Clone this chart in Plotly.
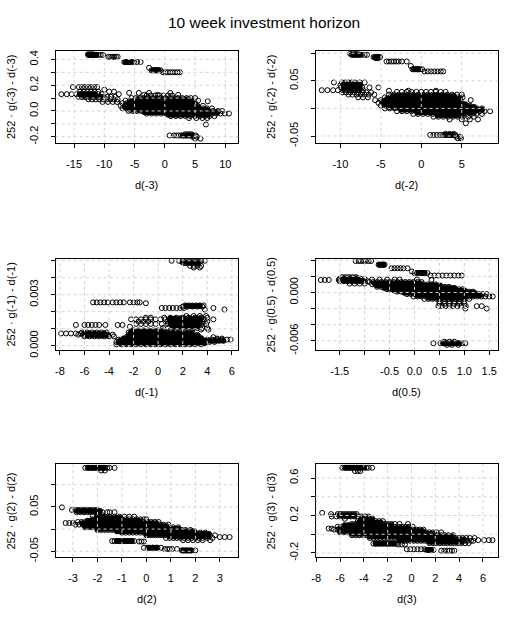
import plotly.graph_objects as go

# ---------------- data ----------------
panel_names = ["-3", "-2", "-1", "0.5", "2", "3"]

# individual (outer / sparse) points: (y value, [x values])
rows_dm3 = [
    (0.44, [-12.7, -12.4, -12.1, -11.8]),
    (0.435, [-12.5, -12.2, -11.9, -11.6, -11.3, -11.0, -10.6, -10.2]),
    (0.42, [-9.3, -9.0, -8.7, -8.4, -8.1, -7.8]),
    (0.38, [-6.7, -6.4, -6.1, -5.8, -5.5, -5.1, -4.6, -4.0]),
    (0.335, [-2.6]),
    (0.315, [-2.2, -1.9, -1.6, -1.3, -1.0, -0.7]),
    (0.30, [-0.3, 0.1, 0.5, 0.9, 1.3, 1.7, 2.1, 2.5]),
    (0.185, [-15.2, -14.2, -13.7, -13.2, -12.7, -12.2, -11.7, -11.2]),
    (0.165, [-10.0]),
    (0.15, [-14.0, -13.4, -12.8, -12.2, -11.6, -11.0, -9.2, -8.4]),
    (0.14, [-5.9, -4.3, -2.6, 0.9]),
    (0.13, [-17.1, -16.2, -15.4, -14.6, -14.0, -13.4, -12.8, -12.2, -11.6, -11.0, -10.4, -7.6]),
    (0.125, [-3.4, -1.2, 2.2]),
    (0.12, [-3.0, -2.3, -1.6, -0.9, -0.2, 0.5, 1.2]),
    (0.11, [-14.3, -13.7, -13.1, -12.5, -11.9, -11.3, -10.7, -10.1, -9.5, -8.9, -8.2]),
    (0.10, [-5.5, -4.8, -4.1, -3.4, -2.7, -2.0, -1.3, -0.6, 0.1, 0.8, 1.5, 2.2, 2.9, 3.6, 4.3, 5.0]),
    (0.09, [-12.6, -12.0, -11.4, -10.8, -10.2, -9.6, -9.0, -8.4, -7.8]),
    (0.08, [-6.5, -5.8, -5.1, -4.4, -3.7, -3.0, -2.3, -1.6, -0.9, -0.2, 0.5, 1.2, 1.9, 2.6, 3.3, 4.0, 4.7, 5.5]),
    (0.075, [7.1]),
    (0.07, [-10.3, -9.4, -8.6, -7.9]),
    (0.06, [-7.0, -6.3, -5.6, -4.9, -4.2, -3.5, -2.8, -2.1, -1.4, -0.7, 0.0, 0.7, 1.4, 2.1, 2.8, 3.5, 4.2, 5.0]),
    (0.04, [-7.3, -6.6, -5.9, -5.2, -4.5, -3.8, -3.1, -2.4, -1.7, -1.0, -0.3, 0.4, 1.1, 1.8, 2.5, 3.2, 3.9, 4.6, 5.4, 6.3]),
    (0.02, [-7.0, -6.3, -5.6, -4.9, -4.2, -3.5, -2.8, -2.1, -1.4, -0.7, 0.0, 0.7, 1.4, 2.1, 2.8, 3.5, 4.2, 4.9, 5.6, 6.3, 7.0, 7.8]),
    (0.0, [-6.0, -5.3, -4.6, -3.9, -3.2, -2.5, -1.8, -1.1, -0.4, 0.3, 1.0, 1.7, 2.4, 3.1, 3.8, 4.5, 5.2, 5.9, 6.6, 7.3, 8.0, 8.8, 9.5]),
    (-0.02, [-3.0, -2.2, -1.4, -0.6, 0.2, 1.0, 1.8, 2.6, 3.4, 4.2, 5.0, 5.7, 6.4, 7.1, 7.8, 8.5, 9.2, 9.9, 10.6]),
    (-0.04, [1.0, 1.8, 2.6, 3.4, 4.2, 5.0, 5.8, 6.6, 7.4, 8.2]),
    (-0.055, [4.0, 5.2, 6.2, 7.0]),
    (-0.105, [6.8]),
    (-0.18, [3.4, 3.9, 4.4]),
    (-0.19, [0.8, 1.5, 1.9, 2.3, 2.7, 3.1, 3.5, 3.9, 4.3, 4.7, 5.1]),
    (-0.20, [4.6, 5.3]),
    (-0.215, [5.0, 5.9]),
]
# heavily overplotted cores (shown as solid black)
core_dm3 = [
    (0.435, [-12.6, -12.2, -11.8, -11.4]),
    (0.38, [-6.5, -6.1, -5.7]),
    (0.315, [-1.9, -1.5, -1.1]),
    (0.13, [-14.0, -13.4, -12.8, -12.2, -11.6]),
    (0.11, [-13.7, -13.1, -12.5, -11.9, -11.3, -10.7]),
    (0.09, [-4.5, -3.9, -3.3, -2.7, -2.1, -1.5, -0.9, -0.3, 0.3, 0.9, 1.5, 2.1, 2.7, 3.3, 3.9]),
    (0.07, [-5.7, -5.1, -4.5, -3.9, -3.3, -2.7, -2.1, -1.5, -0.9, -0.3, 0.3, 0.9, 1.5, 2.1, 2.7, 3.3, 3.9, 4.5]),
    (0.05, [-6.3, -5.7, -5.1, -4.5, -3.9, -3.3, -2.7, -2.1, -1.5, -0.9, -0.3, 0.3, 0.9, 1.5, 2.1, 2.7, 3.3, 3.9, 4.5]),
    (0.03, [-6.6, -6.0, -5.4, -4.8, -4.2, -3.6, -3.0, -2.4, -1.8, -1.2, -0.6, 0.0, 0.6, 1.2, 1.8, 2.4, 3.0, 3.6, 4.2, 4.8, 5.4]),
    (0.01, [-5.7, -5.1, -4.5, -3.9, -3.3, -2.7, -2.1, -1.5, -0.9, -0.3, 0.3, 0.9, 1.5, 2.1, 2.7, 3.3, 3.9, 4.5, 5.1, 5.7, 6.3, 6.9]),
    (-0.01, [-3.3, -2.7, -2.1, -1.5, -0.9, -0.3, 0.3, 0.9, 1.5, 2.1, 2.7, 3.3, 3.9, 4.5, 5.1, 5.7, 6.3, 6.9, 7.5, 8.1, 8.7]),
    (-0.03, [0.6, 1.2, 1.8, 2.4, 3.0, 3.6, 4.2, 4.8, 5.4, 6.0, 6.6, 7.2]),
    (-0.19, [3.0, 3.5, 4.0, 4.5]),
]

rows_dm2 = [
    (0.099, [-8.8, -8.5, -8.2, -7.9]),
    (0.097, [-8.6, -8.2, -7.8, -7.4, -7.0, -6.7]),
    (0.093, [-5.9, -5.7, -5.5, -5.3, -5.1]),
    (0.091, [-5.6, -5.3]),
    (0.085, [-4.3, -4.0, -3.7, -3.4, -3.1, -2.8, -2.4, -1.8]),
    (0.077, [-1.3]),
    (0.071, [-1.1, -0.8, -0.5, -0.2, 0.1]),
    (0.067, [0.4, 0.8, 1.2, 1.6, 2.0, 2.4, 2.7]),
    (0.047, [-10.8, -9.8, -9.4, -9.0, -8.6, -8.2, -7.6, -7.0]),
    (0.042, [-10.0, -9.6, -9.2, -8.8, -8.4, -8.0, -7.6]),
    (0.038, [-9.9, -9.4, -8.9, -8.4, -7.9, -7.3, -6.4, -5.3]),
    (0.033, [-12.3, -11.6, -10.9, -10.3, -9.7, -9.2, -8.7, -8.2, -7.7, -7.2]),
    (0.032, [-4.0, -1.6, 1.8]),
    (0.030, [-3.0, -2.4, -1.8, -1.2, -0.6, 0.0, 0.6, 1.2, 1.8, 2.4, 3.0]),
    (0.029, [-9.8, -9.3, -8.8, -8.3, -7.8, -7.3, -6.8, -6.2]),
    (0.025, [-9.0, -8.5, -8.0, -7.5, -7.0, -6.5, -5.8, -4.0, -3.4, -2.8, -2.2, -1.6, -1.0, -0.4, 0.2, 0.8, 1.4, 2.0, 2.6, 3.2, 3.8, 4.4, 5.0]),
    (0.020, [-7.8, -7.2, -6.6, -4.5, -3.9, -3.3, -2.7, -2.1, -1.5, -0.9, -0.3, 0.3, 0.9, 1.5, 2.1, 2.7, 3.3, 3.9, 4.5, 5.1]),
    (0.015, [-5.7, -5.0, -4.4, -3.8, -3.2, -2.6, -2.0, -1.4, -0.8, -0.2, 0.4, 1.0, 1.6, 2.2, 2.8, 3.4, 4.0, 4.6, 6.1]),
    (0.010, [-5.3, -4.7, -4.1, -3.5, -2.9, -2.3, -1.7, -1.1, -0.5, 0.1, 0.7, 1.3, 1.9, 2.5, 3.1, 3.7, 4.3, 5.0]),
    (0.005, [-5.0, -4.4, -3.8, -3.2, -2.6, -2.0, -1.4, -0.8, -0.2, 0.4, 1.0, 1.6, 2.2, 2.8, 3.4, 4.0, 4.6, 5.2, 6.0]),
    (0.000, [-4.5, -3.9, -3.3, -2.7, -2.1, -1.5, -0.9, -0.3, 0.3, 0.9, 1.5, 2.1, 2.7, 3.3, 3.9, 4.5, 5.1, 5.7, 6.3, 6.9, 7.5]),
    (-0.005, [-3.0, -2.4, -1.8, -1.2, -0.6, 0.0, 0.6, 1.2, 1.8, 2.4, 3.0, 3.6, 4.2, 4.8, 5.4, 6.0, 6.6, 7.2, 7.8, 8.5]),
    (-0.010, [-1.0, -0.4, 0.2, 0.8, 1.4, 2.0, 2.6, 3.2, 3.8, 4.4, 5.0, 5.6, 6.2, 6.8, 7.5]),
    (-0.015, [1.5, 2.1, 2.7, 3.3, 3.9, 4.5, 5.1, 5.8, 6.5]),
    (-0.020, [3.5, 5.0, 6.0, 7.0]),
    (-0.027, [5.5]),
    (-0.046, [3.0, 3.5, 4.0]),
    (-0.048, [1.1, 1.5, 1.9, 2.3, 2.7, 3.0, 3.3, 3.6, 3.9, 4.2]),
    (-0.051, [4.3, 4.8]),
    (-0.054, [4.5, 4.9]),
]
core_dm2 = [
    (0.097, [-8.4, -8.0, -7.6]),
    (0.092, [-5.7, -5.4]),
    (0.071, [-0.9, -0.6, -0.3]),
    (0.043, [-9.6, -9.1, -8.6, -8.1, -7.6]),
    (0.035, [-9.6, -9.1, -8.6, -8.1, -7.6]),
    (0.0225, [-3.5, -3.0, -2.5, -2.0, -1.5, -1.0, -0.5, 0.0, 0.5, 1.0, 1.5, 2.0, 2.5, 3.0, 3.5, 4.0]),
    (0.0175, [-4.2, -3.7, -3.2, -2.7, -2.2, -1.7, -1.2, -0.7, -0.2, 0.3, 0.8, 1.3, 1.8, 2.3, 2.8, 3.3, 3.8, 4.3, 4.8]),
    (0.0125, [-4.8, -4.3, -3.8, -3.3, -2.8, -2.3, -1.8, -1.3, -0.8, -0.3, 0.2, 0.7, 1.2, 1.7, 2.2, 2.7, 3.2, 3.7, 4.2, 4.7]),
    (0.0075, [-4.6, -4.1, -3.6, -3.1, -2.6, -2.1, -1.6, -1.1, -0.6, -0.1, 0.4, 0.9, 1.4, 1.9, 2.4, 2.9, 3.4, 3.9, 4.4, 4.9, 5.4]),
    (0.0025, [-4.0, -3.5, -3.0, -2.5, -2.0, -1.5, -1.0, -0.5, 0.0, 0.5, 1.0, 1.5, 2.0, 2.5, 3.0, 3.5, 4.0, 4.5, 5.0, 5.5, 6.0, 6.5]),
    (-0.0025, [-2.5, -2.0, -1.5, -1.0, -0.5, 0.0, 0.5, 1.0, 1.5, 2.0, 2.5, 3.0, 3.5, 4.0, 4.5, 5.0, 5.5, 6.0, 6.5, 7.0, 7.5]),
    (-0.0075, [-0.5, 0.0, 0.5, 1.0, 1.5, 2.0, 2.5, 3.0, 3.5, 4.0, 4.5, 5.0, 5.5, 6.0, 6.5]),
    (-0.0125, [2.0, 2.5, 3.0, 3.5, 4.0, 4.5, 5.0]),
    (-0.048, [3.0, 3.4, 3.8]),
]

rows_dm1 = [
    (0.00500, [1.1, 1.7, 2.0, 2.3, 2.5, 2.7, 2.9, 3.1, 3.3, 3.5, 3.8]),
    (0.00485, [2.1, 2.4, 2.7, 3.0, 3.3]),
    (0.00470, [2.6, 2.9, 3.2, 3.5]),
    (0.00460, [2.9, 3.4]),
    (0.00255, [-5.3, -5.0, -4.7, -4.4, -4.1, -3.7, -3.4, -3.1, -2.8, -2.3, -2.0, -1.7, -1.5]),
    (0.00250, [-1.0]),
    (0.00237, [2.2, 2.5, 2.8, 3.1, 3.4, 3.7]),
    (0.00230, [2.0, 2.4, 2.8, 3.2, 3.6]),
    (0.00222, [0.3, 0.6, 0.9, 1.2, 1.5, 1.8, 2.1, 4.5]),
    (0.00213, [3.8, 5.4]),
    (0.00175, [2.3, 2.9, 3.4, 3.9]),
    (0.00165, [-1.0, -0.6, 0.5, 1.0, 1.5, 2.0, 2.5, 3.0, 3.5, 4.0]),
    (0.00155, [-2.2, -1.8, -1.4, -1.0, -0.6, -0.2, 0.2, 0.6, 1.0, 1.4, 1.8, 2.2, 2.6, 3.0, 3.4, 3.8, 4.5]),
    (0.00142, [-1.6, -1.2, -0.8, 0.8, 1.2, 1.6, 2.0, 2.4, 2.8, 3.2, 3.6, 4.0]),
    (0.00128, [-1.8, -1.4, -1.0, -0.6, -0.2, 0.3, 0.8, 1.2, 1.6, 2.0, 2.4, 2.8, 3.2, 3.6, 3.9]),
    (0.00122, [-6.7, -6.0, -5.7, -5.4, -5.1, -4.8, -4.3, -3.3, -2.9]),
    (0.00112, [-2.3]),
    (0.00104, [0.4, 0.8, 1.2, 1.6, 2.0, 2.4, 2.8, 3.2, 3.6, 4.0]),
    (0.00095, [1.5, 2.2, 2.8, 3.5, 4.1]),
    (0.00090, [-2.0, -1.6, -1.2, -0.8, -0.4, 0.0, 0.4, 1.0]),
    (0.00078, [-6.2, -5.8, -5.4, -5.0, -4.6, -4.2, -2.4, -2.0, -1.6, -1.2, -0.8, -0.4, 0.0, 0.4, 0.8, 1.2, 1.6, 2.0, 2.4, 2.8]),
    (0.00072, [-7.9, -7.5, -7.1, -6.7, -6.3]),
    (0.00065, [-6.5, -6.1, -5.7, -5.3, -4.9, -4.5, -4.1, -3.7]),
    (0.00064, [-2.4, -2.0, -1.6, -1.2, -0.8, -0.4, 0.0, 0.4, 0.8, 1.2, 1.6, 2.0, 2.4, 2.8, 3.2]),
    (0.00055, [-6.0, -5.6, -5.2, -4.8, -4.4, -4.0, -3.6]),
    (0.00050, [-2.6, -2.2, -1.8, -1.4, -1.0, -0.6, -0.2, 0.2, 0.6, 1.0, 1.4, 1.8, 2.2, 2.6, 3.0, 3.4, 4.5]),
    (0.00042, [4.8, 5.2]),
    (0.00036, [-3.2, -2.8, -2.4, -2.0, -1.6, -1.2, -0.8, -0.4, 0.0, 0.4, 0.8, 1.2, 1.6, 2.0, 2.4, 2.8, 3.2, 3.6, 4.0, 4.4, 4.8, 5.2, 5.6, 5.9]),
    (0.00022, [-3.4, -3.0, -2.6, -2.2, -1.8, -1.4, -1.0, -0.6, -0.2, 0.2, 0.6, 1.0, 1.4, 1.8, 2.2, 2.6, 3.0, 3.4, 3.8, 4.2, 4.6]),
    (0.00008, [-3.4, -3.0, -2.6, -2.2, -1.8, -1.4, -1.0, -0.6, -0.2, 0.2, 0.6, 1.0, 1.4, 1.8, 2.2, 2.6, 3.0, 3.5]),
]
core_dm1 = [
    (0.00492, [2.0, 2.35, 2.7, 3.05, 3.3]),
    (0.00233, [2.3, 2.65, 3.0, 3.35]),
    (0.00160, [1.0, 1.4, 1.8, 2.2, 2.6, 3.0, 3.4]),
    (0.00135, [1.0, 1.4, 1.8, 2.2, 2.6, 3.0, 3.4]),
    (0.00115, [1.2, 1.6, 2.0, 2.4, 2.8, 3.2]),
    (0.00072, [-6.0, -5.6, -5.2, -4.8, -4.4]),
    (0.00060, [-5.8, -5.4, -5.0, -4.6, -4.2]),
    (0.00084, [-2.2, -1.85, -1.5, -1.15, -0.8, -0.45, -0.1, 0.25]),
    (0.00071, [-2.2, -1.85, -1.5, -1.15, -0.8, -0.45, -0.1, 0.25, 0.6, 0.95, 1.3, 1.65, 2.0, 2.35, 2.7]),
    (0.00057, [-2.4, -2.05, -1.7, -1.35, -1.0, -0.65, -0.3, 0.05, 0.4, 0.75, 1.1, 1.45, 1.8, 2.15, 2.5, 2.85, 3.2]),
    (0.00043, [-2.8, -2.45, -2.1, -1.75, -1.4, -1.05, -0.7, -0.35, 0.0, 0.35, 0.7, 1.05, 1.4, 1.75, 2.1, 2.45, 2.8, 3.15, 3.5]),
    (0.00029, [-3.1, -2.75, -2.4, -2.05, -1.7, -1.35, -1.0, -0.65, -0.3, 0.05, 0.4, 0.75, 1.1, 1.45, 1.8, 2.15, 2.5, 2.85, 3.2, 3.55, 3.9, 4.25, 4.6, 4.95, 5.3]),
    (0.00015, [-3.2, -2.85, -2.5, -2.15, -1.8, -1.45, -1.1, -0.75, -0.4, -0.05, 0.3, 0.65, 1.0, 1.35, 1.7, 2.05, 2.4, 2.75, 3.1, 3.45, 3.8]),
]

rows_d05 = [
    (0.0039, [-1.18, -1.12, -1.08, -1.03, -0.98, -0.92, -0.87]),
    (0.00345, [-0.72, -0.69, -0.66, -0.63, -0.60]),
    (0.0030, [-0.46, -0.40, -0.34, -0.28, -0.22, -0.14]),
    (0.0026, [-0.05]),
    (0.0024, [0.0, 0.05, 0.10, 0.15, 0.20, 0.26]),
    (0.0021, [0.32, 0.40, 0.48, 0.56, 0.64, 0.72, 0.80, 0.88, 0.95]),
    (0.0019, [-1.45, -1.38, -1.31, -1.24, -1.17]),
    (0.0017, [-1.50, -1.43, -1.36, -1.29, -1.22, -1.15, -1.08, -1.00]),
    (0.0016, [-0.85, -0.70, -0.55, -0.40, -0.30, 0.05]),
    (0.00155, [-1.88, -1.80, -1.72, -1.52, 0.34]),
    (0.0014, [-1.50, -1.42, -1.34, -1.26, -1.18, -1.10, -1.02, -0.94]),
    (0.0013, [-0.90, -0.82, -0.74, -0.66, -0.58, -0.50, -0.42, -0.34, -0.26, -0.18, -0.10, -0.02, 0.06, 0.14]),
    (0.0011, [-1.30, -1.20, -1.10, -1.00]),
    (0.0010, [-0.85, -0.77, -0.69, -0.61, -0.53, -0.45, -0.37, -0.29, -0.21, -0.13, -0.05, 0.03, 0.11, 0.19, 0.27, 0.35, 0.43]),
    (0.0007, [-0.75, -0.67, -0.59, -0.51, -0.43, -0.35, -0.27, -0.19, -0.11, -0.03, 0.05, 0.13, 0.21, 0.29, 0.37, 0.45, 0.53, 0.61, 0.69]),
    (0.0004, [-0.55, -0.47, -0.39, -0.31, -0.23, -0.15, -0.07, 0.01, 0.09, 0.17, 0.25, 0.33, 0.41, 0.49, 0.57, 0.65, 0.73, 0.81, 0.89, 0.97]),
    (0.0001, [-0.35, -0.27, -0.19, -0.11, -0.03, 0.05, 0.13, 0.21, 0.29, 0.37, 0.45, 0.53, 0.61, 0.69, 0.77, 0.85, 0.93, 1.01, 1.09, 1.17]),
    (-0.0002, [-0.15, -0.07, 0.01, 0.09, 0.17, 0.25, 0.33, 0.41, 0.49, 0.57, 0.65, 0.73, 0.81, 0.89, 0.97, 1.05, 1.13, 1.21, 1.29, 1.37, 1.45]),
    (-0.0005, [-0.02, 0.06, 0.14, 0.22, 0.30, 0.38, 0.46, 0.54, 0.62, 0.70, 0.78, 0.86, 0.94, 1.02, 1.10, 1.18, 1.26, 1.34, 1.42, 1.50, 1.57]),
    (-0.0008, [0.20, 0.28, 0.36, 0.44, 0.52, 0.60, 0.68, 0.76, 0.84, 0.92, 1.00, 1.10]),
    (-0.0011, [0.50, 0.60, 0.70, 0.80, 0.90, 1.00]),
    (-0.0014, [0.50, 0.60, 0.70, 0.80, 0.90, 1.00]),
    (-0.0017, [0.48, 0.55, 0.62, 0.70, 0.78, 0.86, 0.94, 1.03, 1.25, 1.35]),
    (-0.0020, [1.02, 1.45]),
    (-0.0061, [0.60, 0.70, 0.80]),
    (-0.0063, [0.38, 0.52, 0.58, 0.63, 0.68, 0.73, 0.78, 0.84, 0.90, 0.96, 1.02]),
    (-0.0065, [0.65, 0.75, 0.88]),
]
core_d05 = [
    (0.00345, [-0.70, -0.66, -0.62]),
    (0.0024, [0.08, 0.14, 0.20]),
    (0.00175, [-1.42, -1.35, -1.28, -1.21, -1.14]),
    (0.00145, [-1.40, -1.33, -1.26, -1.19, -1.12, -1.05]),
    (0.00115, [-0.80, -0.73, -0.66, -0.59, -0.52, -0.45, -0.38, -0.31, -0.24, -0.17, -0.10, -0.03, 0.04, 0.11]),
    (0.00085, [-0.75, -0.68, -0.61, -0.54, -0.47, -0.40, -0.33, -0.26, -0.19, -0.12, -0.05, 0.02, 0.09, 0.16, 0.23, 0.30, 0.37, 0.44, 0.51]),
    (0.00055, [-0.60, -0.53, -0.46, -0.39, -0.32, -0.25, -0.18, -0.11, -0.04, 0.03, 0.10, 0.17, 0.24, 0.31, 0.38, 0.45, 0.52, 0.59, 0.66, 0.73, 0.80]),
    (0.00025, [-0.40, -0.33, -0.26, -0.19, -0.12, -0.05, 0.02, 0.09, 0.16, 0.23, 0.30, 0.37, 0.44, 0.51, 0.58, 0.65, 0.72, 0.79, 0.86, 0.93, 1.00]),
    (-0.00005, [-0.20, -0.13, -0.06, 0.01, 0.08, 0.15, 0.22, 0.29, 0.36, 0.43, 0.50, 0.57, 0.64, 0.71, 0.78, 0.85, 0.92, 0.99, 1.06, 1.13, 1.20]),
    (-0.00035, [0.05, 0.12, 0.19, 0.26, 0.33, 0.40, 0.47, 0.54, 0.61, 0.68, 0.75, 0.82, 0.89, 0.96, 1.03, 1.10, 1.17, 1.24, 1.31]),
    (-0.00065, [0.30, 0.37, 0.44, 0.51, 0.58, 0.65, 0.72, 0.79, 0.86, 0.93, 1.00]),
    (-0.0063, [0.58, 0.64, 0.70, 0.76, 0.82, 0.88]),
]

rows_d2 = [
    (0.138, [-2.5, -2.4, -2.3, -2.2, -2.1, -2.0, -1.9, -1.8, -1.7, -1.6, -1.5, -1.3]),
    (0.132, [-1.85, -1.7]),
    (0.049, [-3.45]),
    (0.043, [-3.04, -2.9, -2.8, -2.7, -2.6, -2.5, -2.4, -2.3, -2.2, -2.1, -2.0]),
    (0.038, [-2.85, -2.7, -2.55, -2.4, -2.25, -2.1, -1.95, -1.8, -1.6, -1.5, -1.3]),
    (0.031, [-2.2, -2.0, -1.8]),
    (0.028, [-2.0, -1.85, -1.7, -1.5, -1.3, -1.1, -0.9, -0.7, -0.5]),
    (0.022, [-2.2, -2.05, -1.9, -1.75, -1.6, -1.45, -1.3, -1.15, -1.0, -0.85, -0.7, -0.55, -0.4, -0.25, -0.1, 0.0]),
    (0.016, [-2.8, -2.65, -2.5, -2.35, -2.2, -2.05, -1.9, -1.75, -1.6, -1.45, -1.3, -1.15, -1.0, -0.85, -0.7, -0.55, -0.4, -0.25, -0.1, 0.05, 0.2, 0.35, 0.5]),
    (0.0136, [-3.3, -3.15, -3.0]),
    (0.010, [-2.9, -2.75, -2.6, -2.45, -2.3, -2.15, -2.0, -1.85, -1.7, -1.55, -1.4, -1.25, -1.1, -0.95, -0.8, -0.65, -0.5, -0.35, -0.2, -0.05, 0.1, 0.25, 0.4, 0.55, 0.7, 0.9]),
    (0.004, [-2.5, -2.35, -2.2, -2.05, -1.9, -1.75, -1.6, -1.45, -1.3, -1.15, -1.0, -0.85, -0.7, -0.55, -0.4, -0.25, -0.1, 0.05, 0.2, 0.35, 0.5, 0.65, 0.8, 0.95, 1.1, 1.3]),
    (-0.002, [-2.0, -1.85, -1.7, -1.55, -1.4, -1.25, -1.1, -0.95, -0.8, -0.65, -0.5, -0.35, -0.2, -0.05, 0.1, 0.25, 0.4, 0.55, 0.7, 0.85, 1.0, 1.15, 1.3, 1.45, 1.6, 1.8]),
    (-0.008, [-1.0, -0.85, -0.7, -0.55, -0.4, -0.25, -0.1, 0.05, 0.2, 0.35, 0.5, 0.65, 0.8, 0.95, 1.1, 1.25, 1.4, 1.55, 1.7, 1.85, 2.0, 2.2, 2.4]),
    (-0.014, [0.0, 0.15, 0.3, 0.45, 0.6, 0.75, 0.9, 1.05, 1.2, 1.35, 1.5, 1.65, 1.8, 1.95, 2.1, 2.25, 2.4, 2.6, 2.8]),
    (-0.018, [3.0, 3.2, 3.4]),
    (-0.020, [0.8, 0.95, 1.1, 1.25, 1.4, 1.55, 1.7, 1.85, 2.0, 2.15, 2.3, 2.5, 2.7]),
    (-0.025, [1.5, 1.7, 1.9, 2.1, 2.3, 2.6]),
    (-0.027, [-1.4, -1.3, -1.2, -1.1, -1.0, -0.9, -0.8, -0.7, -0.6, -0.5]),
    (-0.028, [-0.3, -0.2, -0.1]),
    (-0.042, [-0.1, 0.05, 0.15, 0.25, 0.35, 0.45, 0.6]),
    (-0.045, [0.75, 0.85, 0.95, 1.05, 1.25]),
    (-0.048, [1.45, 1.55, 1.65, 1.75, 1.85, 2.0]),
]
core_d2 = [
    (0.138, [-2.35, -2.2, -2.05, -1.9, -1.75]),
    (0.0405, [-2.8, -2.65, -2.5, -2.35, -2.2, -2.05, -1.9]),
    (0.025, [-2.0, -1.85, -1.7, -1.55, -1.4, -1.25, -1.1]),
    (0.019, [-2.4, -2.25, -2.1, -1.95, -1.8, -1.65, -1.5, -1.35, -1.2, -1.05, -0.9, -0.75, -0.6, -0.45, -0.3]),
    (0.013, [-2.6, -2.45, -2.3, -2.15, -2.0, -1.85, -1.7, -1.55, -1.4, -1.25, -1.1, -0.95, -0.8, -0.65, -0.5, -0.35, -0.2, -0.05, 0.1, 0.25, 0.4]),
    (0.007, [-2.5, -2.35, -2.2, -2.05, -1.9, -1.75, -1.6, -1.45, -1.3, -1.15, -1.0, -0.85, -0.7, -0.55, -0.4, -0.25, -0.1, 0.05, 0.2, 0.35, 0.5, 0.65, 0.8]),
    (0.001, [-2.0, -1.85, -1.7, -1.55, -1.4, -1.25, -1.1, -0.95, -0.8, -0.65, -0.5, -0.35, -0.2, -0.05, 0.1, 0.25, 0.4, 0.55, 0.7, 0.85, 1.0, 1.15, 1.3]),
    (-0.005, [-1.2, -1.05, -0.9, -0.75, -0.6, -0.45, -0.3, -0.15, 0.0, 0.15, 0.3, 0.45, 0.6, 0.75, 0.9, 1.05, 1.2, 1.35, 1.5, 1.65, 1.8, 1.95]),
    (-0.011, [0.0, 0.15, 0.3, 0.45, 0.6, 0.75, 0.9, 1.05, 1.2, 1.35, 1.5, 1.65, 1.8, 1.95, 2.1, 2.25, 2.4, 2.55]),
    (-0.017, [1.0, 1.15, 1.3, 1.45, 1.6, 1.75, 1.9, 2.05, 2.2, 2.35, 2.5]),
    (-0.027, [-1.2, -1.05, -0.9, -0.75, -0.6]),
    (-0.042, [0.1, 0.25, 0.4]),
    (-0.048, [1.5, 1.65, 1.8]),
]

rows_d3 = [
    (0.71, [-5.8, -5.6, -5.4, -5.2, -5.0, -4.8, -4.6, -4.4, -4.2, -4.0, -3.8, -3.6, -3.3]),
    (0.675, [-4.75, -4.5, -4.3]),
    (0.228, [-7.5]),
    (0.215, [-6.75, -6.2, -6.0, -5.8, -5.6, -5.4, -5.2, -5.0, -4.8, -4.6]),
    (0.19, [-6.7, -6.3, -6.0, -5.7, -5.4, -5.1, -4.8, -4.5, -4.2, -3.9, -3.6]),
    (0.17, [-4.2, -3.9, -3.6, -3.3]),
    (0.165, [-5.6]),
    (0.14, [-4.5, -4.2, -3.9, -3.6, -3.3, -3.0, -2.7, -2.4]),
    (0.11, [-5.0, -4.7, -4.4, -4.1, -3.8, -3.5, -3.2, -2.9, -2.6, -2.3, -2.0, -1.7, -1.4, -1.0, -0.3]),
    (0.08, [-6.2, -5.9, -5.6, -5.3, -5.0, -4.7, -4.4, -4.1, -3.8, -3.5, -3.2, -2.9, -2.6, -2.3, -2.0, -1.7, -1.4, -1.1, -0.8, -0.5, -0.2, 0.1]),
    (0.06, [-6.95, -6.7]),
    (0.05, [-6.5, -6.2, -5.9, -5.6, -5.3, -5.0, -4.7, -4.4, -4.1, -3.8, -3.5, -3.2, -2.9, -2.6, -2.3, -2.0, -1.7, -1.4, -1.1, -0.8, -0.5, -0.2, 0.1, 0.4, 0.7, 1.0]),
    (0.02, [-6.0, -5.7, -5.4, -5.1, -4.8, -4.5, -4.2, -3.9, -3.6, -3.3, -3.0, -2.7, -2.4, -2.1, -1.8, -1.5, -1.2, -0.9, -0.6, -0.3, 0.0, 0.3, 0.6, 0.9, 1.2, 1.5, 1.8, 2.1, 2.5]),
    (-0.01, [-5.0, -4.7, -4.4, -4.1, -3.8, -3.5, -3.2, -2.9, -2.6, -2.3, -2.0, -1.7, -1.4, -1.1, -0.8, -0.5, -0.2, 0.1, 0.4, 0.7, 1.0, 1.3, 1.6, 1.9, 2.2, 2.5, 2.8, 3.1, 3.5]),
    (-0.04, [-3.5, -3.2, -2.9, -2.6, -2.3, -2.0, -1.7, -1.4, -1.1, -0.8, -0.5, -0.2, 0.1, 0.4, 0.7, 1.0, 1.3, 1.6, 1.9, 2.2, 2.5, 2.8, 3.1, 3.4, 3.7, 4.0, 4.3, 4.6, 4.9, 5.3]),
    (-0.063, [5.6, 6.1, 6.5, 6.8]),
    (-0.07, [-1.0, -0.7, -0.4, -0.1, 0.2, 0.5, 0.8, 1.1, 1.4, 1.7, 2.0, 2.3, 2.6, 2.9, 3.2, 3.5, 3.8, 4.1, 4.4, 4.7, 5.0, 5.2]),
    (-0.095, [1.5, 1.8, 2.1, 2.4, 2.7, 3.0, 3.3, 3.6, 3.9, 4.2, 4.5, 4.8]),
    (-0.10, [-3.2, -3.0, -2.8, -2.6, -2.4, -2.2, -2.0, -1.8, -1.6, -1.4, -1.25]),
    (-0.11, [-1.1, -0.8, -0.55]),
    (-0.16, [-0.4, -0.1, 0.2, 0.5, 0.8, 1.1]),
    (-0.168, [1.25, 1.45, 1.65, 1.85]),
    (-0.175, [2.5, 2.75, 3.0, 3.2, 3.4, 3.6]),
]
core_d3 = [
    (0.71, [-5.5, -5.2, -4.9, -4.6, -4.3, -4.0]),
    (0.20, [-6.0, -5.7, -5.4, -5.1, -4.8]),
    (0.155, [-4.2, -3.9, -3.6, -3.3]),
    (0.125, [-4.4, -4.1, -3.8, -3.5, -3.2, -2.9, -2.6]),
    (0.095, [-5.6, -5.3, -5.0, -4.7, -4.4, -4.1, -3.8, -3.5, -3.2, -2.9, -2.6, -2.3, -2.0, -1.7]),
    (0.065, [-6.0, -5.7, -5.4, -5.1, -4.8, -4.5, -4.2, -3.9, -3.6, -3.3, -3.0, -2.7, -2.4, -2.1, -1.8, -1.5, -1.2, -0.9, -0.6, -0.3]),
    (0.035, [-6.0, -5.7, -5.4, -5.1, -4.8, -4.5, -4.2, -3.9, -3.6, -3.3, -3.0, -2.7, -2.4, -2.1, -1.8, -1.5, -1.2, -0.9, -0.6, -0.3, 0.0, 0.3, 0.6, 0.9]),
    (0.005, [-5.0, -4.7, -4.4, -4.1, -3.8, -3.5, -3.2, -2.9, -2.6, -2.3, -2.0, -1.7, -1.4, -1.1, -0.8, -0.5, -0.2, 0.1, 0.4, 0.7, 1.0, 1.3, 1.6, 1.9]),
    (-0.025, [-3.5, -3.2, -2.9, -2.6, -2.3, -2.0, -1.7, -1.4, -1.1, -0.8, -0.5, -0.2, 0.1, 0.4, 0.7, 1.0, 1.3, 1.6, 1.9, 2.2, 2.5, 2.8, 3.1, 3.4]),
    (-0.055, [-1.0, -0.7, -0.4, -0.1, 0.2, 0.5, 0.8, 1.1, 1.4, 1.7, 2.0, 2.3, 2.6, 2.9, 3.2, 3.5, 3.8, 4.1, 4.4]),
    (-0.08, [1.5, 1.8, 2.1, 2.4, 2.7, 3.0, 3.3, 3.6, 3.9, 4.2]),
    (-0.10, [-3.0, -2.7, -2.4, -2.1, -1.8, -1.5]),
    (-0.168, [1.35, 1.6]),
]

xticks_all = [
    [-15, -10, -5, 0, 5, 10],
    [-10, -5, 0, 5],
    [-8, -6, -4, -2, 0, 2, 4, 6],
    [-1.5, -1.0, -0.5, 0.0, 0.5, 1.0, 1.5],
    [-3, -2, -1, 0, 1, 2, 3],
    [-8, -6, -4, -2, 0, 2, 4, 6],
]
xticklabels_all = [
    ["-15", "-10", "-5", "0", "5", "10"],
    ["-10", "-5", "0", "5"],
    ["-8", "-6", "-4", "-2", "0", "2", "4", "6"],
    ["-1.5", "", "-0.5", "0.0", "0.5", "1.0", "1.5"],
    ["-3", "-2", "-1", "0", "1", "2", "3"],
    ["-8", "-6", "-4", "-2", "0", "2", "4", "6"],
]
yticks_all = [
    [-0.2, -0.1, 0.0, 0.1, 0.2, 0.3, 0.4],
    [-0.05, 0.0, 0.05, 0.10],
    [0.0, 0.001, 0.002, 0.003, 0.004, 0.005],
    [-0.006, -0.004, -0.002, 0.0, 0.002, 0.004],
    [-0.05, 0.0, 0.05, 0.10],
    [-0.2, 0.0, 0.2, 0.4, 0.6],
]
yticklabels_all = [
    ["-0.2", "", "0.0", "", "0.2", "", "0.4"],
    ["-0.05", "", "0.05", ""],
    ["0.000", "", "", "0.003", "", ""],
    ["-0.006", "", "", "0.000", "", ""],
    ["-0.05", "", "0.05", ""],
    ["-0.2", "", "0.2", "", "0.6"],
]

all_rows = [rows_dm3, rows_dm2, rows_dm1, rows_d05, rows_d2, rows_d3]
all_cores = [core_dm3, core_dm2, core_dm1, core_d05, core_d2, core_d3]

# ---------------- layout geometry (page pixels) ----------------
FW, FH = 524, 628     # figure size == window (body margin removed below)


def fx(p):
    return p / FW


def fy(p):
    return 1 - p / FH


boxes = [(52, 51, 236, 144), (314, 51, 498, 144),
         (52, 262, 236, 354), (314, 262, 498, 354),
         (52, 470, 236, 564), (314, 470, 498, 564)]
xranges = [[-18.05, 12.13], [-13.06, 9.5], [-8.35, 6.52],
           [-1.984, 1.68], [-3.71, 3.75], [-8.05, 7.28]]
yranges = [[-0.248, 0.463], [-0.0625, 0.1035], [-0.00025, 0.00509],
           [-0.00713, 0.00412], [-0.0627, 0.146], [-0.242, 0.747]]

FONT = "Arial, 'Liberation Sans', sans-serif"
fig = go.Figure()
shapes = []
annotations = []


def flatten(rows):
    xs, ys = [], []
    for yv, xl in rows:
        for xv in xl:
            xs.append(xv)
            ys.append(yv)
    return xs, ys


for i in range(6):
    n = "" if i == 0 else str(i + 1)
    cx, cy = flatten(all_cores[i])
    fig.add_trace(go.Scatter(
        x=cx, y=cy, mode="markers", xaxis="x" + n, yaxis="y" + n,
        marker=dict(symbol="circle", size=6, color="black",
                    line=dict(width=0)),
        showlegend=False, hoverinfo="skip"))
    xs, ys = flatten(all_rows[i])
    fig.add_trace(go.Scatter(
        x=xs, y=ys, mode="markers", xaxis="x" + n, yaxis="y" + n,
        marker=dict(symbol="circle-open", size=5, color="black",
                    line=dict(width=1, color="black")),
        showlegend=False, hoverinfo="skip"))

    l, t, r, b = boxes[i]
    axcommon = dict(showline=True, mirror=True, linecolor="black", linewidth=1,
                    ticks="outside", ticklen=4, tickcolor="black", tickwidth=1,
                    showgrid=False, zeroline=False, fixedrange=True,
                    tickfont=dict(family=FONT, size=11, color="black"))
    fig.layout["xaxis" + n] = dict(
        domain=[fx(l), fx(r)], range=xranges[i], anchor="y" + n,
        tickmode="array", tickvals=xticks_all[i], ticktext=xticklabels_all[i],
        ticklabelstandoff=7, **axcommon)
    fig.layout["yaxis" + n] = dict(
        domain=[fy(b), fy(t)], range=yranges[i], anchor="x" + n,
        tickmode="array", tickvals=yticks_all[i], ticktext=yticklabels_all[i],
        tickangle=-90, ticklabelstandoff=8, **axcommon)

    grid = dict(color="#d3d3d3", width=1, dash="3px,3px")
    for v in xticks_all[i]:
        shapes.append(dict(type="line", xref="x" + n, yref="y" + n + " domain",
                           x0=v, x1=v, y0=0, y1=1, line=grid, layer="above"))
    for v in yticks_all[i]:
        shapes.append(dict(type="line", xref="x" + n + " domain", yref="y" + n,
                           x0=0, x1=1, y0=v, y1=v, line=grid, layer="above"))

    name = panel_names[i]
    annotations.append(dict(text="d(" + name + ")", xref="paper", yref="paper",
                            x=fx((l + r) / 2), y=fy(b + 43),
                            xanchor="center", yanchor="middle", showarrow=False,
                            font=dict(family=FONT, size=11, color="black")))
    annotations.append(dict(text="252 \u00b7 g(" + name + ") - d(" + name + ")",
                            xref="paper", yref="paper",
                            x=fx(l - 45), y=fy((t + b) / 2),
                            xanchor="center", yanchor="middle", showarrow=False,
                            textangle=-90,
                            font=dict(family=FONT, size=11, color="black")))

annotations.append(dict(text="10 week investment horizon", xref="paper", yref="paper",
                        x=fx(262), y=fy(22), xanchor="center", yanchor="middle",
                        showarrow=False, font=dict(family=FONT, size=15.5, color="black")))

fig.update_layout(width=FW, height=FH, margin=dict(l=0, r=0, t=0, b=0),
                  paper_bgcolor="white", plot_bgcolor="white",
                  hovermode=False,
                  shapes=shapes, annotations=annotations)

fig.write_html("out.html", config={"displayModeBar": False, "staticPlot": True},
               post_script="document.body.style.margin='0px';")
